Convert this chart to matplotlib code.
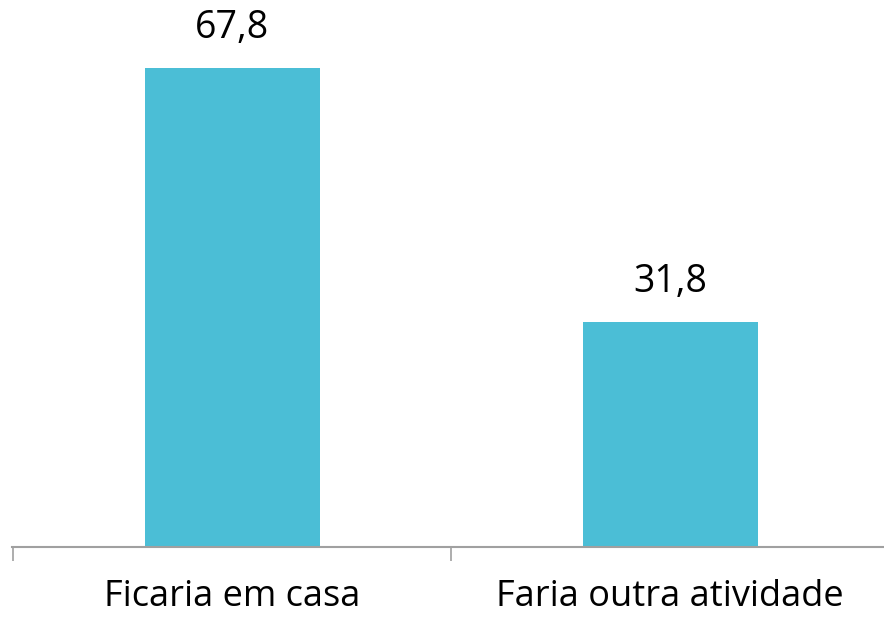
import matplotlib
matplotlib.use("Agg")
import matplotlib.pyplot as plt

categories = ["Ficaria em casa", "Faria outra atividade"]
values = [67.8, 31.8]
value_labels = ["67,8", "31,8"]

plt.rcParams['font.family'] = ['Open Sans', 'DejaVu Sans']

fig = plt.figure(figsize=(8.84, 6.18), dpi=100)
ax = fig.add_axes([12/884, (618-547)/618, 1 - 12/884, 547/618])

x = list(range(len(categories)))
bars = ax.bar(x, values, width=0.4, color="#4BBED6", zorder=2)
for xi, v, lab in zip(x, values, value_labels):
    ax.annotate(lab, (xi, v), xytext=(0, 30), textcoords="offset pixels",
                ha="center", va="baseline", fontsize=27, color="black")

for xi, lab in zip(x, categories):
    ax.annotate(lab, (xi, 0), xytext=(0, -59), textcoords="offset pixels",
                ha="center", va="baseline", fontsize=26, color="black",
                annotation_clip=False)

ax.set_xlim(-0.503, 1.488)
ax.set_ylim(0, 547/7.065)
ax.set_xticks([])
ax.set_xticks([-0.5, 0.5], minor=True)
ax.tick_params(axis='x', which='minor', length=10, width=1.2, color="#A0A0A0", direction="out")
ax.set_yticks([])
for s in ["top", "right", "left"]:
    ax.spines[s].set_visible(False)
ax.spines["bottom"].set_color("#A0A0A0")
ax.spines["bottom"].set_linewidth(1.5)
ax.patch.set_alpha(0)

fig.savefig("out.png", dpi=100)
